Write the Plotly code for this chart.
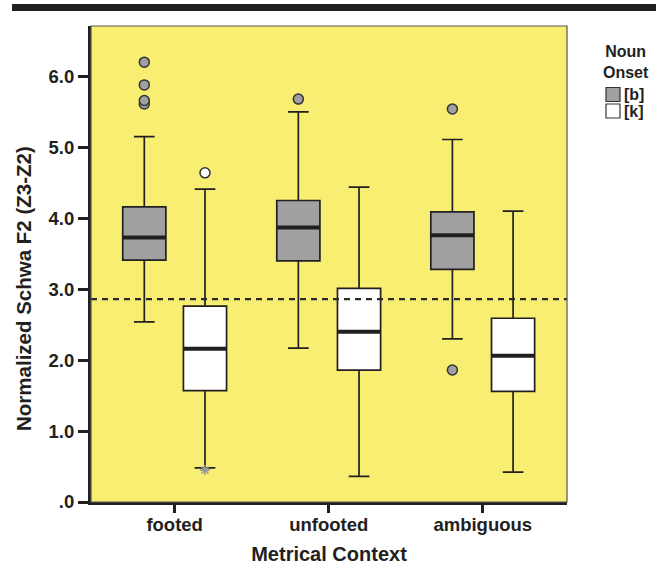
import plotly.graph_objects as go

# ---- data -------------------------------------------------------------
categories = ["footed", "unfooted", "ambiguous"]
onsets = ["[b]", "[k]"]

b_q1 = [3.41, 3.40, 3.28]
b_median = [3.73, 3.87, 3.76]
b_q3 = [4.16, 4.25, 4.09]
b_lower = [2.54, 2.17, 2.30]
b_upper = [5.15, 5.50, 5.11]
b_outliers = [[5.61, 5.66, 5.88, 6.20], [5.68], [5.54, 1.86]]
b_extremes = [[], [], []]

k_q1 = [1.57, 1.86, 1.56]
k_median = [2.16, 2.40, 2.06]
k_q3 = [2.76, 3.01, 2.59]
k_lower = [0.48, 0.36, 0.42]
k_upper = [4.41, 4.44, 4.10]
k_outliers = [[4.64], [], []]
k_extremes = [[0.45], [], []]

reference_line = 2.86

y_tickvals = [0, 1, 2, 3, 4, 5, 6]
y_ticktext = [".0", "1.0", "2.0", "3.0", "4.0", "5.0", "6.0"]

# ---- styling ----------------------------------------------------------
W, H = 666, 572
M_L, M_R, M_T, M_B = 91, 99, 26, 70
PLOT_W = W - M_L - M_R
PLOT_H = H - M_T - M_B

BG_YELLOW = "#F8EE72"
BOX_GRAY = "#A0A0A0"
INK = "#231F20"
FONT = "Liberation Sans, Arial, sans-serif"

GROUP_OFFSET = 0.197
BOX_WIDTH = 0.28
X_RANGE = [-0.543, 2.547]
Y_RANGE = [0, 6.71]


def px_x(px):
    return (px - M_L) / PLOT_W


def px_y(py):
    return (H - M_B - py) / PLOT_H


def bold(size):
    return dict(size=size, weight="bold", family=FONT, color=INK)


fig = go.Figure()

series = [
    ("[b]", -GROUP_OFFSET, BOX_GRAY, b_q1, b_median, b_q3, b_lower, b_upper, b_outliers, b_extremes),
    ("[k]", GROUP_OFFSET, "white", k_q1, k_median, k_q3, k_lower, k_upper, k_outliers, k_extremes),
]

shapes = []
annotations = []
for idx, (name, offset, fill, q1, med, q3, lo, hi, outs, extr) in enumerate(series):
    pos = [i + offset for i in range(len(categories))]
    fig.add_trace(go.Box(
        name=name, x=pos, q1=q1, median=med, q3=q3,
        lowerfence=lo, upperfence=hi,
        width=BOX_WIDTH, whiskerwidth=0.48,
        fillcolor=fill, line=dict(color=INK, width=1.7),
        boxpoints=False, hoverinfo="skip", showlegend=False,
    ))
    # heavy median bars
    for p, m in zip(pos, med):
        shapes.append(dict(type="line", xref="x", yref="y",
                           x0=p - BOX_WIDTH / 2, x1=p + BOX_WIDTH / 2,
                           y0=m, y1=m, line=dict(color=INK, width=4)))
    # outliers (circles) and extremes (stars)
    ox = [p for p, vals in zip(pos, outs) for _ in vals]
    oy = [v for vals in outs for v in vals]
    if oy:
        fig.add_trace(go.Scatter(
            x=ox, y=oy, mode="markers", showlegend=False, hoverinfo="skip",
            marker=dict(symbol="circle", size=10, color=fill,
                        line=dict(color="#333333", width=1.5)),
        ))
    ex = [p for p, vals in zip(pos, extr) for _ in vals]
    ey = [v for vals in extr for v in vals]
    if ey:
        fig.add_trace(go.Scatter(
            x=ex, y=ey, mode="markers", showlegend=False, hoverinfo="skip",
            marker=dict(symbol="asterisk-open", size=8, color="#9A9A9A",
                        line=dict(color="#9A9A9A", width=1.6)),
        ))

    # legend key: swatch + label
    key_y = 94.5 + 16.5 * idx
    shapes.append(dict(type="rect", xref="paper", yref="paper",
                       x0=px_x(606), x1=px_x(620), y0=px_y(key_y + 7), y1=px_y(key_y - 7),
                       fillcolor=fill, line=dict(color="#333333", width=1.2)))
    annotations.append(dict(text=name, xref="paper", yref="paper",
                            x=px_x(622), y=px_y(key_y), xanchor="left", yanchor="middle",
                            showarrow=False, font=bold(16)))

# dashed reference line
shapes.append(dict(type="line", xref="paper", yref="y", x0=0, x1=1,
                   y0=reference_line, y1=reference_line,
                   line=dict(color="#2A2A2A", width=2.2, dash="6px,5px")))
# thin frame on top/right
shapes.append(dict(type="rect", xref="paper", yref="paper", x0=0, x1=1, y0=0, y1=1,
                   line=dict(color="#555555", width=1.2), layer="above"))
# heavy rule across the top of the page
shapes.append(dict(type="rect", xref="paper", yref="paper",
                   x0=px_x(12), x1=px_x(656), y0=px_y(11), y1=px_y(4),
                   fillcolor=INK, line=dict(width=0)))

annotations += [
    dict(text="Normalized Schwa F2 (Z3-Z2)", textangle=-90,
         xref="paper", yref="paper", x=px_x(23), y=px_y(289),
         xanchor="center", yanchor="middle", showarrow=False, font=bold(20.5)),
    dict(text="Noun<br>Onset", align="center",
         xref="paper", yref="paper", x=px_x(626), y=px_y(62),
         xanchor="center", yanchor="middle", showarrow=False, font=bold(16)),
]

fig.update_layout(
    width=W, height=H,
    margin=dict(l=M_L, r=M_R, t=M_T, b=M_B, autoexpand=False),
    paper_bgcolor="white", plot_bgcolor=BG_YELLOW,
    font=dict(family=FONT, color=INK),
    shapes=shapes,
    annotations=annotations,
    xaxis=dict(
        range=X_RANGE, tickvals=list(range(len(categories))), ticktext=categories,
        showgrid=False, zeroline=False, showline=True, linecolor=INK, linewidth=3,
        ticks="outside", ticklen=8, tickwidth=2.5, tickcolor=INK,
        tickfont=bold(18.5), automargin=False, ticklabelstandoff=-4,
        title=dict(text="Metrical Context", font=bold(20), standoff=13),
    ),
    yaxis=dict(
        range=Y_RANGE, tickvals=y_tickvals, ticktext=y_ticktext,
        showgrid=False, zeroline=False, showline=True, linecolor=INK, linewidth=3,
        ticks="outside", ticklen=10, tickwidth=2.5, tickcolor=INK,
        tickfont=bold(18.5), automargin=False,
    ),
    showlegend=False,
)

fig.write_html("out.html")
